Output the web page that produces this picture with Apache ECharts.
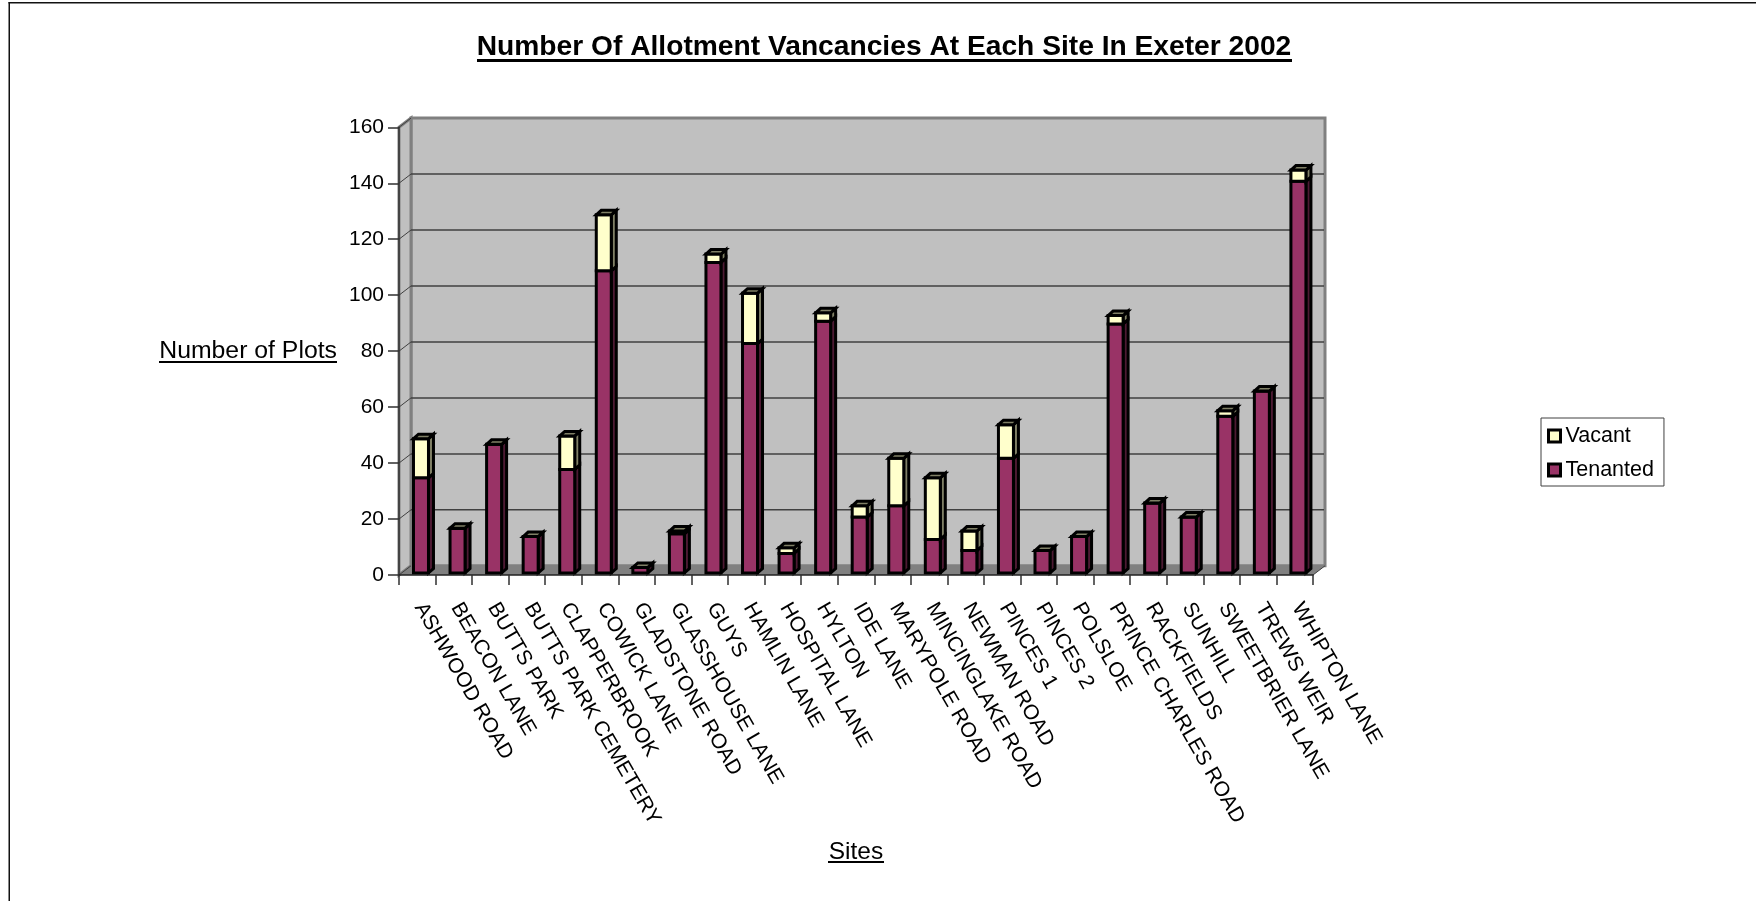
<!DOCTYPE html>
<html>
<head>
<meta charset="utf-8">
<style>html,body{margin:0;padding:0;background:#fff}#c{width:1756px;height:901px}</style>
<script src="https://cdn.jsdelivr.net/npm/echarts@6/dist/echarts.min.js"></script>
</head>
<body>
<div id="c"></div>
<script>
const categories = ["ASHWOOD ROAD","BEACON LANE","BUTTS PARK","BUTTS PARK CEMETERY","CLAPPERBROOK","COWICK LANE","GLADSTONE ROAD","GLASSHOUSE LANE","GUYS","HAMLIN LANE","HOSPITAL LANE","HYLTON","IDE LANE","MARYPOLE ROAD","MINCINGLAKE ROAD","NEWMAN ROAD","PINCES 1","PINCES 2","POLSLOE","PRINCE CHARLES ROAD","RACKFIELDS","SUNHILL","SWEETBRIER LANE","TREWS WEIR","WHIPTON LANE"];
const tenanted = [34,16,46,13,37,108,2,14,111,82,7,90,20,24,12,8,41,8,13,89,25,20,56,65,140];
const vacant   = [14,0,0,0,12,20,0,1,3,18,2,3,4,17,22,7,12,0,0,3,0,0,2,0,4];
const yTicks = [0,20,40,60,80,100,120,140,160];

const FONT = '"Liberation Sans", Arial, sans-serif';
const WALL_DX = 12, WALL_DY = 9.2;
const BAR_SHIFT_X = 3.7, BAR_SHIFT_Y = 2, BAR_W = 15, DEPTH_X = 5, DEPTH_Y = 4.5;

function renderScene(params, api) {
  const v = api.value(1), g = params.coordSys;
  const y = api.coord([0, v])[1];
  const L = g.x, R = g.x + g.width, B = g.y + g.height, T = g.y;
  const kids = [];
  if (v === 0) {
    kids.push({type:'polygon', shape:{points:[[L+WALL_DX,T-WALL_DY],[R+WALL_DX,T-WALL_DY],[R+WALL_DX,B-WALL_DY],[L+WALL_DX,B-WALL_DY]]},
      style:{fill:'#C0C0C0', stroke:'#808080', lineWidth:3}});
    kids.push({type:'polygon', shape:{points:[[L,T],[L+WALL_DX,T-WALL_DY],[L+WALL_DX,B-WALL_DY],[L,B]]},
      style:{fill:'#C0C0C0', stroke:'#808080', lineWidth:3}});
    kids.push({type:'polygon', shape:{points:[[L,B],[L+WALL_DX,B-WALL_DY],[R+WALL_DX,B-WALL_DY],[R,B]]},
      style:{fill:'#808080'}});
    kids.push({type:'line', shape:{x1:R,y1:B,x2:R+WALL_DX,y2:B-WALL_DY}, style:{stroke:'#404040', lineWidth:1}});
  }
  if (v > 0 && v < 160) {
    kids.push({type:'line', shape:{x1:L+WALL_DX,y1:y-WALL_DY,x2:R+WALL_DX-1,y2:y-WALL_DY}, style:{stroke:'#404040', lineWidth:1.5}});
  }
  kids.push({type:'line', shape:{x1:L,y1:y,x2:L+WALL_DX,y2:y-WALL_DY}, style:{stroke:'#404040', lineWidth:1}});
  return {type:'group', children:kids};
}

function barRenderer(front, side, top) {
  return function (params, api) {
    const i = api.value(0);
    const b = api.coord([i, api.value(1)]);
    const t = api.coord([i, api.value(2)]);
    const x0 = b[0] + BAR_SHIFT_X - BAR_W / 2, x1 = x0 + BAR_W;
    const y0 = b[1] - BAR_SHIFT_Y, y1 = t[1] - BAR_SHIFT_Y;
    const ls = {stroke:'#000', lineWidth:3, lineJoin:'miter'};
    const kids = [
      {type:'polygon', shape:{points:[[x1,y0],[x1+DEPTH_X,y0-DEPTH_Y],[x1+DEPTH_X,y1-DEPTH_Y],[x1,y1]]}, style:Object.assign({fill:side}, ls)},
      {type:'polygon', shape:{points:[[x0,y0],[x1,y0],[x1,y1],[x0,y1]]}, style:Object.assign({fill:front}, ls)}
    ];
    if (top) kids.push({type:'polygon', shape:{points:[[x0,y1],[x0+DEPTH_X,y1-DEPTH_Y],[x1+DEPTH_X,y1-DEPTH_Y],[x1,y1]]}, style:Object.assign({fill:top}, ls)});
    return {type:'group', children:kids};
  };
}

const chart = echarts.init(document.getElementById('c'), null, {renderer:'canvas'});
const underline = (x, y, w, h) => ({type:'rect', silent:true, z:100, shape:{x, y, width:w, height:h}, style:{fill:'#000'}});

chart.setOption({
  animation:false,
  backgroundColor:'#fff',
  textStyle:{fontFamily:FONT},
  title:{
    text:'Number Of Allotment Vancancies At Each Site In Exeter 2002',
    left:884, top:33.5, textAlign:'center', padding:0,
    textStyle:{fontFamily:FONT, fontSize:28.2, fontWeight:'bold', color:'#000'}
  },
  legend:{
    left:1541, top:418, orient:'vertical',
    data:['Vacant','Tenanted'], icon:'rect',
    itemWidth:12, itemHeight:12, itemGap:12,
    padding:[7,10,5,6],
    backgroundColor:'#fff', borderColor:'#404040', borderWidth:1,
    itemStyle:{borderColor:'#000', borderWidth:3},
    textStyle:{fontFamily:FONT, fontSize:21.5, color:'#000', padding:[0,0,0,0]}
  },
  grid:{left:399, top:127.3, width:914, height:447.7, containLabel:false},
  xAxis:{
    type:'category', data:categories, z:10,
    name:'Sites', nameLocation:'middle', nameGap:265,
    nameTextStyle:{fontFamily:FONT, fontSize:24.5, color:'#000'},
    axisLine:{show:true, lineStyle:{color:'#202020', width:1.5}},
    axisTick:{show:true, length:10, alignWithLabel:false, lineStyle:{color:'#303030', width:1.5}},
    axisLabel:{interval:0, rotate:-60, margin:26, padding:[0,0,4,4], fontFamily:FONT, fontSize:21, color:'#000'}
  },
  yAxis:{
    type:'value', min:0, max:160, interval:20, z:10,
    name:'Number of Plots', nameLocation:'middle', nameRotate:0, nameGap:62,
    nameTextStyle:{fontFamily:FONT, fontSize:24.8, color:'#000'},
    axisLine:{show:true, lineStyle:{color:'#303030', width:1.5}},
    axisTick:{show:true, length:11, lineStyle:{color:'#303030', width:1.5}},
    axisLabel:{margin:15, fontFamily:FONT, fontSize:21, color:'#000'},
    splitLine:{show:false}
  },
  graphic:[
    underline(477, 59, 815, 3),
    underline(159, 361, 178, 2),
    underline(828, 861, 56, 2),
    {type:'rect', silent:true, z:100, shape:{x:8.5,y:2,width:1.5,height:899}, style:{fill:'#111'}},
    {type:'rect', silent:true, z:100, shape:{x:8.5,y:2,width:1748,height:1.5}, style:{fill:'#111'}}
  ],
  series:[
    {type:'custom', name:'scene', silent:true, clip:false, z:1, renderItem:renderScene,
     encode:{x:0,y:1}, data:yTicks.map(v=>[0,v])},
    {type:'custom', name:'Tenanted', silent:true, clip:false, z:3,
     itemStyle:{color:'#993366', borderColor:'#000', borderWidth:3},
     renderItem:barRenderer('#993366','#4D1A33',null),
     encode:{x:0,y:[1,2]}, data:tenanted.map((v,i)=>[i,0,v])},
    {type:'custom', name:'Vacant', silent:true, clip:false, z:4,
     itemStyle:{color:'#FFFFCC', borderColor:'#000', borderWidth:3},
     renderItem:barRenderer('#FFFFCC','#808066','#808066'),
     encode:{x:0,y:[1,2]}, data:vacant.map((v,i)=>[i,tenanted[i],tenanted[i]+v])}
  ]
});
</script>
</body>
</html>
